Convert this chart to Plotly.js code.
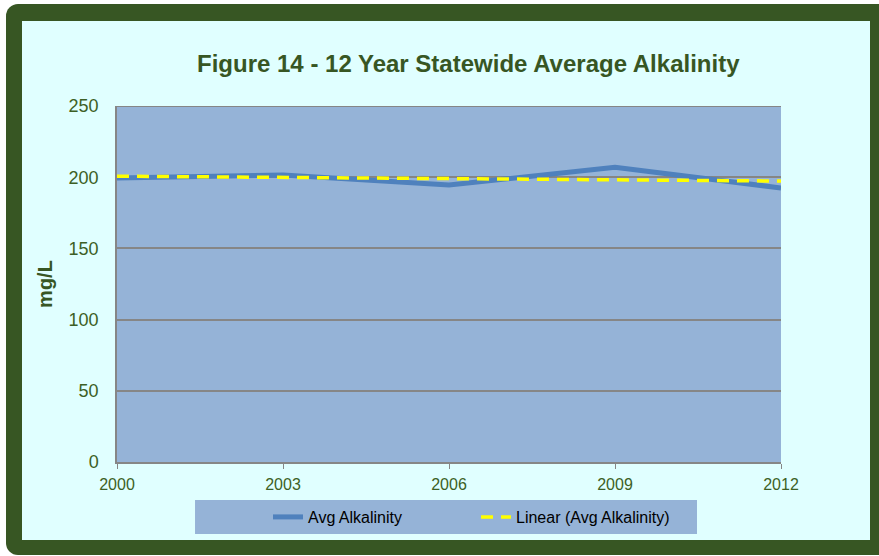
<!DOCTYPE html>
<html>
<head>
<meta charset="utf-8">
<script src="https://cdn.plot.ly/plotly-3.0.1.min.js"></script>
<style>
  body { margin: 0; background: #ffffff; width: 879px; height: 556px; overflow: hidden; position: relative; }
  #frame { position: absolute; left: 6px; top: 4px; width: 890px; height: 551px; background: #375623; border-radius: 12px; }
  #myDiv { position: absolute; left: 22px; top: 21px; width: 848px; height: 519px; }
</style>
</head>
<body>
<div id="frame"></div>
<div id="myDiv"></div>
<script>
var years = [2000, 2003, 2006, 2009, 2012];
var avgAlkalinity = [199.4, 201.5, 194.5, 207, 192.4];
var trendYears = [2000, 2012];
var trendValues = [200.7, 197.3];
var yearTicks = [2000, 2003, 2006, 2009, 2012];

var green = '#375623';
var textGreen = '#3d5f25';

var avg = {
  x: years,
  y: avgAlkalinity,
  name: 'Avg Alkalinity',
  type: 'scatter',
  mode: 'lines',
  line: { color: '#4f81bd', width: 5 }
};

var linear = {
  x: trendYears,
  y: trendValues,
  name: 'Linear (Avg Alkalinity)',
  type: 'scatter',
  mode: 'lines',
  line: { color: '#ffff00', width: 3.5, dash: '12px,8px' }
};

var layout = {
  width: 848,
  height: 519,
  margin: { l: 95, r: 89, t: 85, b: 78, autoexpand: false },
  paper_bgcolor: '#e0ffff',
  plot_bgcolor: '#95b3d7',
  font: { family: 'Liberation Sans, Arial, sans-serif', color: textGreen },
  title: {
    text: '<b>Figure 14 - 12 Year Statewide Average Alkalinity</b>',
    font: { size: 24, color: green },
    x: 0.529,
    xref: 'paper',
    xanchor: 'center',
    y: 1,
    yref: 'paper',
    yanchor: 'bottom',
    pad: { b: 34 }
  },
  xaxis: {
    range: [2000, 2012],
    tickvals: yearTicks,
    ticktext: yearTicks.map(String),
    showgrid: false,
    zeroline: false,
    showline: true,
    linecolor: '#868686',
    linewidth: 1.5,
    ticks: 'outside',
    ticklen: 5,
    tickcolor: '#868686',
    ticklabelstandoff: 2,
    tickfont: { size: 16, color: textGreen }
  },
  yaxis: {
    range: [0, 250],
    dtick: 50,
    gridcolor: '#868686',
    gridwidth: 1.5,
    zeroline: false,
    showline: true,
    linecolor: '#868686',
    linewidth: 1.5,
    ticklabelstandoff: 13,
    tickfont: { size: 18, color: textGreen },
    title: { text: '<b>mg/L</b>', font: { size: 20, color: green }, standoff: 11 }
  },
  shapes: [
    { type: 'line', xref: 'paper', yref: 'y', x0: 0, x1: 1, y0: 250, y1: 250,
      line: { color: '#868686', width: 2 } },
    { type: 'rect', xref: 'paper', yref: 'paper', x0: 0.1175, x1: 0.8735, y0: -0.1067, y1: -0.2022,
      fillcolor: '#95b3d7', line: { width: 0 }, layer: 'below' }
  ],
  showlegend: true,
  legend: {
    orientation: 'h',
    x: 0.2274,
    xanchor: 'left',
    y: -0.1545,
    yanchor: 'middle',
    bgcolor: 'rgba(0,0,0,0)',
    entrywidth: 163,
    font: { size: 16, color: '#000000' }
  }
};

Plotly.newPlot('myDiv', [avg, linear], layout, { displayModeBar: false });
</script>
</body>
</html>
